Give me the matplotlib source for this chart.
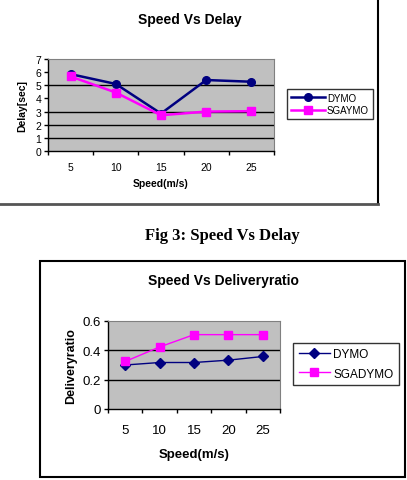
import matplotlib
matplotlib.use("Agg")
import matplotlib.pyplot as plt
from matplotlib.lines import Line2D
from matplotlib.patches import Rectangle

# data
speeds = ["5", "10", "15", "20", "25"]
delay_dymo = [5.85, 5.1, 2.85, 5.4, 5.27]
delay_sgaymo = [5.67, 4.45, 2.72, 3.0, 3.03]
ratio_dymo = [0.30, 0.317, 0.317, 0.333, 0.358]
ratio_sgadymo = [0.324, 0.423, 0.507, 0.507, 0.507]

W, H = 407, 481
NAVY = "#000080"
MAGENTA = "#FF00FF"
PLOT_BG = "#C0C0C0"
SANS = "Liberation Sans"


def px_rect(x0, y0, x1, y1):
    return [x0 / W, 1 - y1 / H, (x1 - x0) / W, (y1 - y0) / H]


def fx(x):
    return x / W


def fy(y):
    return 1 - y / H


def style_axes(ax, ymax, ystep, grid, fs):
    n = len(speeds)
    ax.set_facecolor(PLOT_BG)
    ax.set_xlim(-0.5, n - 0.5)
    ax.set_ylim(0, ymax)
    ax.set_xticks(range(n))
    ax.set_xticklabels(speeds, fontsize=fs, family=SANS)
    ax.set_xticks([i - 0.5 for i in range(n + 1)], minor=True)
    ax.tick_params(axis="x", which="major", length=0, pad=fs * 1.1)
    ax.tick_params(axis="x", which="minor", length=3, width=1, direction="out")
    yt = [round(i * ystep, 2) for i in range(int(round(ymax / ystep)) + 1)]
    ax.set_yticks(yt)
    ax.set_yticklabels([("%g" % v) for v in yt], fontsize=fs, family=SANS)
    ax.tick_params(axis="y", length=3, width=1, direction="out", pad=2)
    for v in grid:
        ax.axhline(v, color="black", lw=1.0, zorder=1)
    for s in ("top", "right"):
        ax.spines[s].set_color("#808080")
        ax.spines[s].set_linewidth(0.8)
    for s in ("left", "bottom"):
        ax.spines[s].set_color("black")
        ax.spines[s].set_linewidth(1.0)


fig = plt.figure(figsize=(W / 100, H / 100), dpi=100)
fig.patch.set_facecolor("white")

# ---- top chart: Speed Vs Delay ----
ax1 = fig.add_axes(px_rect(48, 60, 274, 152))
style_axes(ax1, 7, 1, [1, 2, 3, 5], 7.5)
x = range(len(speeds))
ax1.plot(x, delay_dymo, color=NAVY, lw=1.8, marker="o", ms=5.5, label="DYMO", zorder=3)
ax1.plot(x, delay_sgaymo, color=MAGENTA, lw=1.8, marker="s", ms=6, label="SGAYMO", zorder=3)
ax1.set_xlabel("Speed(m/s)", fontsize=7.5, fontweight="bold", family=SANS, labelpad=4)
ax1.set_ylabel("Delay[sec]", fontsize=7.5, fontweight="bold", family=SANS, labelpad=6)
fig.text(fx(190), fy(20), "Speed Vs Delay", ha="center", va="center",
         fontsize=10, fontweight="bold", family=SANS)
leg1 = ax1.legend(loc="center left", bbox_to_anchor=(fx(287), fy(105)),
                  bbox_transform=fig.transFigure, frameon=True, fancybox=False,
                  prop={"family": SANS, "size": 7}, handlelength=3.5,
                  handletextpad=0.2, borderpad=0.4, labelspacing=0.3,
                  borderaxespad=0)
leg1.get_frame().set_edgecolor("black")
leg1.get_frame().set_linewidth(1.0)

# frame pieces of the upper chart
fig.add_artist(Line2D([fx(378), fx(378)], [fy(0), fy(205)], color="black", lw=1.5))
fig.add_artist(Line2D([fx(0), fx(378)], [fy(205), fy(205)], color="#555555", lw=2))

# caption
fig.text(fx(222), fy(236), "Fig 3: Speed Vs Delay", ha="center", va="center",
         fontsize=12, fontweight="bold", family="Liberation Serif")

# ---- bottom chart: Speed Vs Deliveryratio ----
fig.add_artist(Rectangle((fx(40), fy(478)), fx(405) - fx(40), fy(262) - fy(478),
                         transform=fig.transFigure, fill=False, edgecolor="black", lw=1.5))
ax2 = fig.add_axes(px_rect(108, 322, 280, 410))
style_axes(ax2, 0.6, 0.2, [0.2, 0.4], 9.5)
ax2.plot(x, ratio_dymo, color=NAVY, lw=1.0, marker="D", ms=5, label="DYMO", zorder=3)
ax2.plot(x, ratio_sgadymo, color=MAGENTA, lw=1.0, marker="s", ms=6, label="SGADYMO", zorder=3)
ax2.set_xlabel("Speed(m/s)", fontsize=9.5, fontweight="bold", family=SANS, labelpad=9)
ax2.set_ylabel("Deliveryratio", fontsize=9, fontweight="bold", family=SANS, labelpad=4)
fig.text(fx(223), fy(281), "Speed Vs Deliveryratio", ha="center", va="center",
         fontsize=10, fontweight="bold", family=SANS)
leg2 = ax2.legend(loc="center left", bbox_to_anchor=(fx(293), fy(365)),
                  bbox_transform=fig.transFigure, frameon=True, fancybox=False,
                  prop={"family": SANS, "size": 8.5}, handlelength=2.6,
                  handletextpad=0.3, borderpad=0.5, labelspacing=0.6,
                  borderaxespad=0)
leg2.get_frame().set_edgecolor("black")
leg2.get_frame().set_linewidth(1.0)

fig.savefig("out.png", dpi=100, facecolor="white")
